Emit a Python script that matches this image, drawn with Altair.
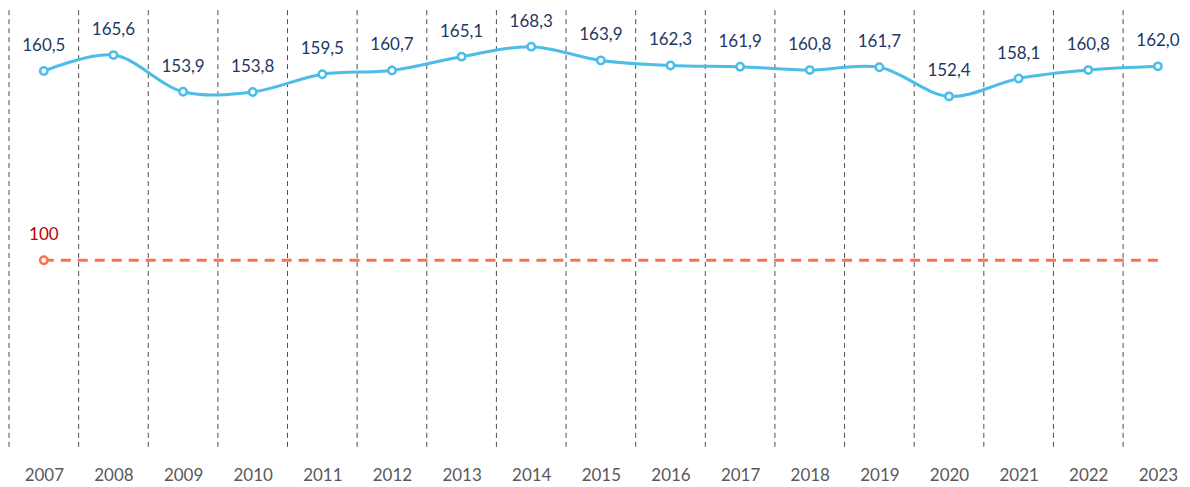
import altair as alt
import pandas as pd

years = list(range(2007, 2024))
values = [160.5, 165.6, 153.9, 153.8, 159.5, 160.7, 165.1, 168.3, 163.9,
          162.3, 161.9, 160.8, 161.7, 152.4, 158.1, 160.8, 162.0]
base_value = 100
base_label = "100"
boundaries = [y - 0.5 for y in years]

df = pd.DataFrame({"year": years, "value": values,
                   "label": [f"{v:.1f}".replace(".", ",") for v in values]})
base_df = pd.DataFrame({"year": years, "value": [base_value] * len(years)})
base_pt = pd.DataFrame({"year": [years[0]], "value": [base_value], "label": [base_label]})
bnd_df = pd.DataFrame({"b": boundaries})

W = 1174
H = 440
step = 69.69
x_scale = alt.Scale(domain=[2006.5, 2006.5 + W / step], nice=False, zero=False)
y_scale = alt.Scale(domain=[40, 180.6], nice=False, zero=False)
FONT = "Lato"

x_axis = alt.Axis(values=years, format="d", title=None, domain=False, ticks=False,
                  grid=False, labelFont=FONT, labelFontSize=17, labelColor="#595959",
                  labelPadding=20)


def X(field):
    return alt.X(field, scale=x_scale, axis=x_axis, title=None)


def Y(field):
    return alt.Y(field, scale=y_scale, axis=None)


rules = alt.Chart(bnd_df).mark_rule(color="#4d4d4d", strokeWidth=1, strokeDash=[5, 4]).encode(
    x=X("b:Q"),
    y=alt.value(2), y2=alt.value(H),
)

base_line = alt.Chart(base_df).mark_line(color="#FF6F4F", strokeWidth=3, strokeDash=[10, 7]).encode(
    x=X("year:Q"), y=Y("value:Q"),
)
base_point = alt.Chart(base_pt).mark_point(shape="circle", size=55, filled=True, fill="white",
                                           stroke="#FF6F4F", strokeWidth=2.5, opacity=1).encode(
    x=X("year:Q"), y=Y("value:Q"),
)
base_text = alt.Chart(base_pt).mark_text(font=FONT, fontSize=17, color="#C00000", dy=-25).encode(
    x=X("year:Q"), y=Y("value:Q"), text="label:N",
)

line = alt.Chart(df).mark_line(color="#4BBDE8", strokeWidth=3, interpolate="catmull-rom").encode(
    x=X("year:Q"), y=Y("value:Q"),
)
points = alt.Chart(df).mark_point(shape="circle", size=55, filled=True, fill="white",
                                  stroke="#4BBDE8", strokeWidth=2.5, opacity=1).encode(
    x=X("year:Q"), y=Y("value:Q"),
)
texts = alt.Chart(df).mark_text(font=FONT, fontSize=17, color="#1F3864", dy=-25).encode(
    x=X("year:Q"), y=Y("value:Q"), text="label:N",
)

chart = alt.layer(rules, base_line, base_point, base_text, line, points, texts).properties(
    width=W, height=H,
    padding={"left": 0, "top": 0, "right": 0, "bottom": 0},
    view=alt.ViewBackground(strokeOpacity=0, strokeWidth=0, fill="white"),
).configure_view(strokeOpacity=0, strokeWidth=0).configure_axis(
    domain=False, grid=False, ticks=False
).configure(background="white")

chart.save("out.html", embed_options={"renderer": "svg", "actions": False})
